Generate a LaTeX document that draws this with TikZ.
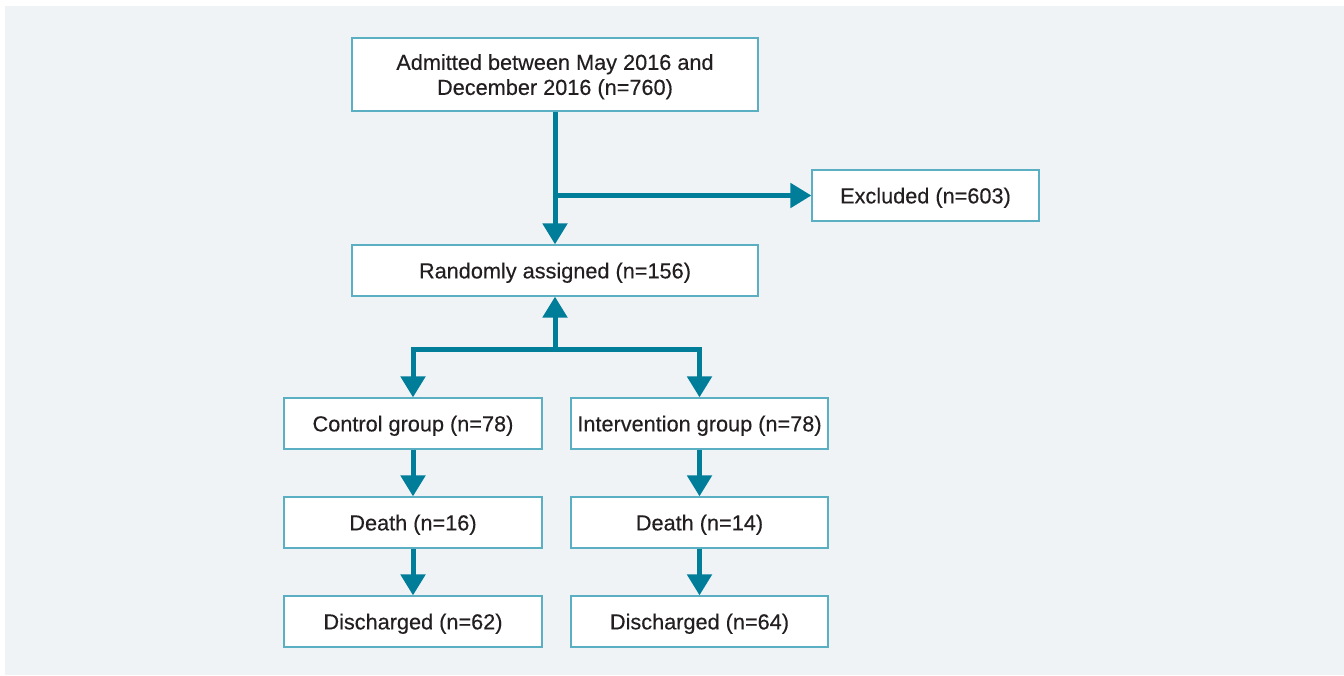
\documentclass[tikz,border=0pt]{standalone}
\usepackage{fontspec}
\setmainfont{Liberation Sans}
\newfontfamily\boxfont{Liberation Sans}[FakeBold=0.3]
\usetikzlibrary{arrows.meta}
\definecolor{flowteal}{HTML}{007E99}
\definecolor{boxedge}{HTML}{5AAFC2}
\definecolor{panelbg}{HTML}{EFF3F6}
\definecolor{inktext}{HTML}{231F20}
\tikzset{
  stagebox/.style={draw=boxedge, line width=0.6pt, fill=white, text=inktext,
    minimum height=25.5pt, inner sep=2pt, align=center, text depth=0pt,
    font=\boxfont\fontsize{10.85}{12.5}\selectfont},
  flowline/.style={draw=flowteal, line width=2.5pt, -{Triangle[width=12pt,length=10.5pt]}}
}
\begin{document}
\begin{tikzpicture}[x=0.5pt,y=-0.5pt]
  \useasboundingbox (0,0) rectangle (1344,675);
  \fill[panelbg] (5,6) rectangle (1344,675);
  \draw
    (555,74.5) node[stagebox, minimum width=203pt, minimum height=36.5pt] (admitted){Admitted between May 2016 and\\December 2016 (n=760)}
    (925.5,195.5) node[stagebox, minimum width=113.5pt] (excluded){Excluded (n=603)}
    (555,270.5) node[stagebox, minimum width=203pt] (random){Randomly assigned (n=156)}
    (413,423.5) node[stagebox, minimum width=129pt] (control){Control group (n=78)}
    (699.5,423.5) node[stagebox, minimum width=128.5pt] (interv){Intervention group (n=78)}
    (413,522.5) node[stagebox, minimum width=129pt] (cdeath){Death (n=16)}
    (699.5,522.5) node[stagebox, minimum width=128.5pt] (ideath){Death (n=14)}
    (413,621.5) node[stagebox, minimum width=129pt] (cdisch){Discharged (n=62)}
    (699.5,621.5) node[stagebox, minimum width=128.5pt] (idisch){Discharged (n=64)};
  \coordinate (split) at (555,349);
  \begin{scope}[flowline]
    \draw (admitted) -- (random);
    \draw (admitted.south |- excluded.west) -- (excluded.west);
    \draw (split) -- (random);
    \draw (split) -| (control);
    \draw (split) -| (interv);
    \draw (control) -- (cdeath);
    \draw (interv) -- (ideath);
    \draw (cdeath) -- (cdisch);
    \draw (ideath) -- (idisch);
  \end{scope}
\end{tikzpicture}
\end{document}
